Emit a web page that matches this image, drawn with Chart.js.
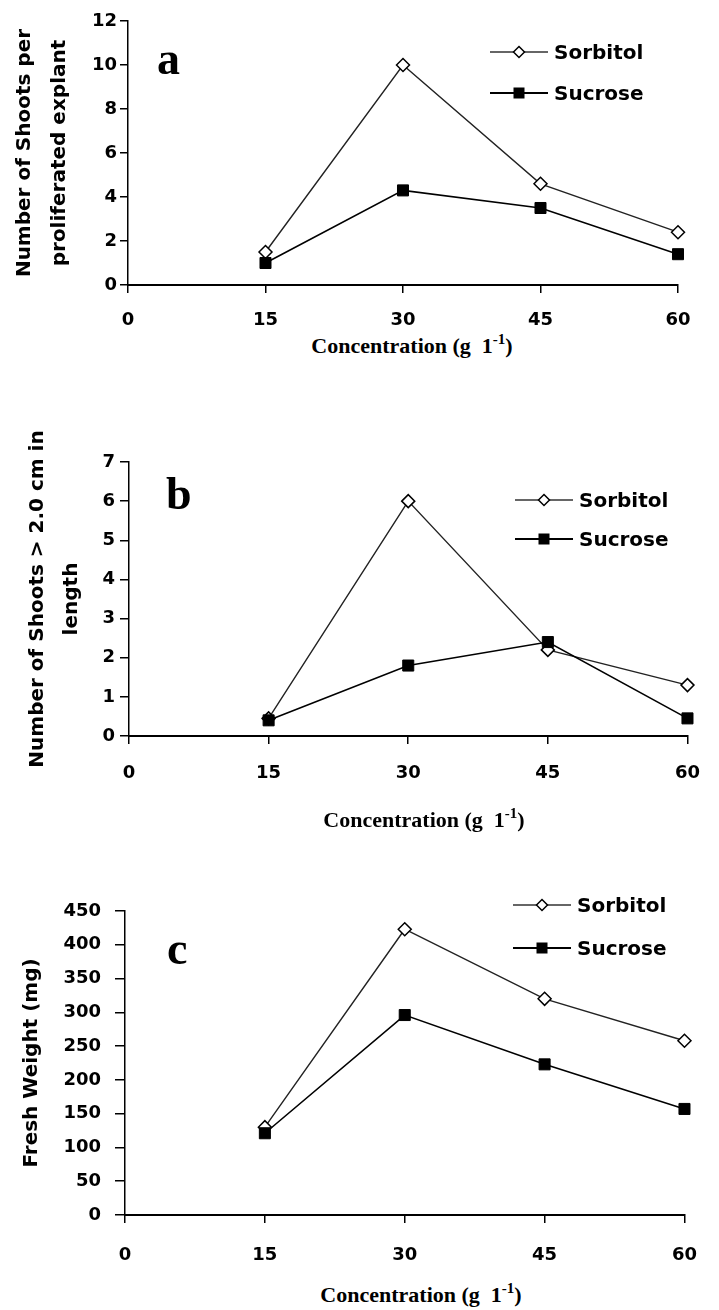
<!DOCTYPE html>
<html>
<head>
<meta charset="utf-8">
<script src="https://cdn.jsdelivr.net/npm/chart.js"></script>
<style>
    body { margin: 0; background: #fff; }
    #page { position: relative; width: 719px; height: 1310px; overflow: hidden; background: #fff; }
    canvas { position: absolute; left: 0; }
    .letter { position: absolute; font-family: "Liberation Serif", "Times New Roman", serif; font-weight: bold; font-size: 46px; line-height: 46px; color: #000; }
    .xtitle { position: absolute; width: 400px; text-align: center; font-family: "Liberation Serif", "Times New Roman", serif; font-weight: bold; font-size: 22px; line-height: 24px; color: #000; white-space: nowrap; }
    .xtitle sup { font-size: 15px; vertical-align: 9px; line-height: 0; }
    .legend { position: absolute; font-family: "DejaVu Sans", sans-serif; font-weight: bold; font-size: 20px; color: #000; }
    .legend div { position: relative; height: 20px; line-height: 20px; white-space: nowrap; }
    .legend svg { vertical-align: middle; margin-right: 6px; position: relative; top: -2px; }
</style>
</head>
<body>
<div id="page">
    <canvas id="chartA" width="719" height="330" style="top:0px"></canvas>
    <canvas id="chartB" width="719" height="400" style="top:400px"></canvas>
    <canvas id="chartC" width="719" height="460" style="top:820px"></canvas>

    <div class="letter" style="left:157px; top:36px">a</div>
    <div class="letter" style="left:166px; top:471px">b</div>
    <div class="letter" style="left:167px; top:926px">c</div>

    <div class="xtitle" style="left:212px; top:334px">Concentration (g&nbsp; 1<sup>-1</sup>)</div>
    <div class="xtitle" style="left:224px; top:808px">Concentration (g&nbsp; 1<sup>-1</sup>)</div>
    <div class="xtitle" style="left:221px; top:1283px">Concentration (g&nbsp; 1<sup>-1</sup>)</div>

    <div class="legend" id="legendA" style="left:490px; top:42px"></div>
    <div class="legend" id="legendB" style="left:515px; top:490px"></div>
    <div class="legend" id="legendC" style="left:513px; top:895px"></div>
</div>
<script>
    // data
    const concentrations = [15, 30, 45, 60];
    const xTicks = [0, 15, 30, 45, 60];
    const seriesNames = ['Sorbitol', 'Sucrose'];

    // a: number of shoots per proliferated explant
    const shootsSorbitol = [1.5, 10.0, 4.6, 2.4];
    const shootsSucrose = [1.0, 4.3, 3.5, 1.4];

    // b: number of shoots > 2.0 cm in length
    const longShootsSorbitol = [0.45, 6.0, 2.2, 1.3];
    const longShootsSucrose = [0.4, 1.8, 2.4, 0.45];

    // c: fresh weight (mg)
    const weightSorbitol = [130, 423, 320, 258];
    const weightSucrose = [121, 296, 223, 157];

    const tickFont = { family: 'DejaVu Sans', weight: 'bold', size: 18 };

    function points(values) {
        return concentrations.map((c, i) => ({ x: c, y: values[i] }));
    }

    function makeDatasets(sorbitol, sucrose) {
        return [{
            label: seriesNames[0],
            data: points(sorbitol),
            borderColor: '#222',
            borderWidth: 1.4,
            pointStyle: 'rectRot',
            pointRadius: 6.5,
            pointBorderWidth: 1.5,
            pointBackgroundColor: '#fff',
            pointBorderColor: '#000',
            tension: 0,
            clip: false,
            order: 1
        }, {
            label: seriesNames[1],
            data: points(sucrose),
            borderColor: '#000',
            borderWidth: 1.6,
            pointStyle: 'rect',
            pointRadius: 7.8,
            pointBorderWidth: 1,
            pointBackgroundColor: '#000',
            pointBorderColor: '#000',
            tension: 0,
            clip: false,
            order: 0
        }];
    }

    function makeChart(id, p) {
        return new Chart(document.getElementById(id), {
            type: 'line',
            data: { datasets: makeDatasets(p.sorbitol, p.sucrose) },
            options: {
                responsive: false,
                animation: false,
                layout: { padding: { top: p.top, right: p.right, bottom: 0, left: 0 } },
                plugins: { legend: { display: false }, tooltip: { enabled: false } },
                scales: {
                    x: {
                        type: 'linear',
                        min: 0,
                        max: 60,
                        afterBuildTicks: axis => { axis.ticks = xTicks.map(v => ({ value: v })); },
                        afterFit: axis => { axis.height = p.xHeight; },
                        grid: { drawOnChartArea: false, color: '#000', lineWidth: 1.5, tickLength: 8 },
                        border: { display: true, color: '#000', width: 2 },
                        ticks: { color: '#000', font: tickFont, padding: p.xPad, maxRotation: 0 }
                    },
                    y: {
                        min: 0,
                        max: p.yMax,
                        afterFit: axis => { axis.width = p.yWidth; },
                        grid: { drawOnChartArea: false, color: '#000', lineWidth: 1.5, tickLength: p.yTick },
                        border: { display: true, color: '#000', width: 1.5 },
                        ticks: { color: '#000', font: tickFont, padding: p.yPad, stepSize: p.yStep },
                        title: {
                            display: true,
                            text: p.yTitle,
                            color: '#000',
                            font: { family: 'DejaVu Sans', weight: 'bold', size: 20, lineHeight: p.titleLH },
                            padding: { top: p.titlePad, bottom: 0 }
                        }
                    }
                }
            }
        });
    }

    makeChart('chartA', {
        sorbitol: shootsSorbitol, sucrose: shootsSucrose,
        top: 21, right: 41, xHeight: 45, yWidth: 128,
        yMax: 12, yStep: 2, yTick: 8, yPad: 3, xPad: 17,
        yTitle: ['Number of Shoots per', 'proliferated explant'], titleLH: 1.75, titlePad: 7
    });

    makeChart('chartB', {
        sorbitol: longShootsSorbitol, sucrose: longShootsSucrose,
        top: 62, right: 15, xHeight: 64, yWidth: 129,
        yMax: 7, yStep: 1, yTick: 9, yPad: 5, xPad: 19,
        yTitle: ['Number of Shoots > 2.0 cm in', 'length'], titleLH: 1.7, titlePad: 21
    });

    makeChart('chartC', {
        sorbitol: weightSorbitol, sucrose: weightSucrose,
        top: 91, right: 32, xHeight: 65, yWidth: 125,
        yMax: 450, yStep: 50, yTick: 10, yPad: 14, xPad: 22,
        yTitle: 'Fresh Weight (mg)', titleLH: 1.2, titlePad: 20
    });

    // legends: line + marker symbol then the series name
    const symbols = [
        '<line x1="0" y1="7" x2="58" y2="7" stroke="#333" stroke-width="1.5"/>' +
        '<polygon points="29,1.5 34.5,7 29,12.5 23.5,7" fill="#fff" stroke="#000" stroke-width="1.5"/>',
        '<line x1="0" y1="7" x2="58" y2="7" stroke="#000" stroke-width="1.8"/>' +
        '<rect x="23.5" y="1.5" width="11" height="11" fill="#000"/>'
    ];

    function buildLegend(id, gap) {
        const box = document.getElementById(id);
        seriesNames.forEach((name, i) => {
            const row = document.createElement('div');
            if (i > 0) row.style.marginTop = gap + 'px';
            row.innerHTML = '<svg width="58" height="14">' + symbols[i] + '</svg>' + name;
            box.appendChild(row);
        });
    }

    buildLegend('legendA', 21);
    buildLegend('legendB', 19);
    buildLegend('legendC', 23);
</script>
</body>
</html>
